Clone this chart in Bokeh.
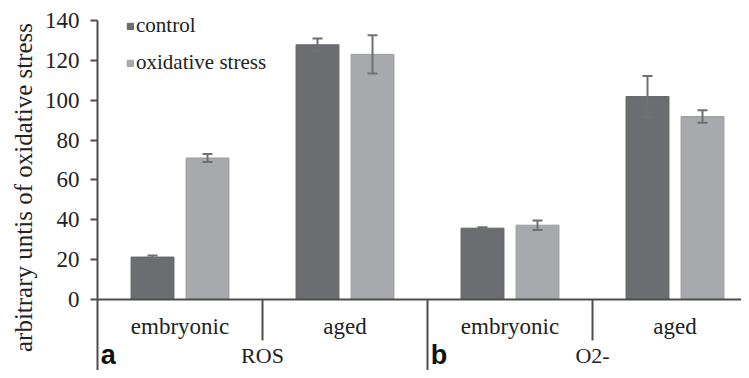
import numpy as np
from bokeh.plotting import figure
from bokeh.models import (ColumnDataSource, Range1d, FixedTicker, Span, Whisker, TeeHead,
                          Legend, LegendItem)
from bokeh.core.properties import value
from bokeh.embed import file_html
from bokeh.resources import INLINE

# ---- data ----
sections = ["ROS", "O2-"]
panel_letters = ["a", "b"]
categories = ["embryonic", "aged", "embryonic", "aged"]
control = [21.3, 127.8, 35.8, 101.8]
control_err = [0.8, 3.2, 0.5, 10.3]
oxidative = [71.0, 123.0, 37.3, 91.8]
oxidative_err = [2.0, 9.6, 2.4, 3.1]
y_ticks = [0, 20, 40, 60, 80, 100, 120, 140]

SERIF = "Times New Roman"
SANS = "Arial"
C_CTRL = "#6c6d70"
C_OXI = "#a8a9ac"
AX = "#4d4d4d"

n = len(categories)
gi = np.arange(n)
x_ctrl = gi + 1/3
x_oxi = gi + 2/3

src_c = ColumnDataSource(dict(x=x_ctrl, top=control,
                              upper=np.array(control) + np.array(control_err),
                              lower=np.array(control) - np.array(control_err)))
src_o = ColumnDataSource(dict(x=x_oxi, top=oxidative,
                              upper=np.array(oxidative) + np.array(oxidative_err),
                              lower=np.array(oxidative) - np.array(oxidative_err)))

Y_BOT = -35.6
Y_TOP = 148.0
p = figure(width=741, height=370, output_backend="svg", toolbar_location=None,
           x_range=Range1d(0, 3.903), y_range=Range1d(Y_BOT, Y_TOP),
           min_border_left=97, min_border_right=0, min_border_top=4, min_border_bottom=0)
p.outline_line_color = None
p.xgrid.visible = False
p.ygrid.visible = False
p.xaxis.visible = False
p.background_fill_color = "white"

# y axis
yax = p.yaxis[0]
yax.ticker = FixedTicker(ticks=y_ticks)
yax.bounds = (Y_BOT, y_ticks[-1])
yax.axis_line_color = AX
yax.axis_line_width = 2
yax.major_tick_line_color = AX
yax.major_tick_line_width = 2
yax.major_tick_out = 7
yax.major_tick_in = 0
yax.minor_tick_line_color = None
yax.major_label_text_font = SERIF
yax.major_label_text_font_size = "23px"
yax.major_label_text_color = "#222222"
yax.major_label_standoff = 11
yax.axis_label = "arbitrary untis of oxidative stress"
yax.axis_label_text_font = SERIF
yax.axis_label_text_font_size = "25px"
yax.axis_label_text_font_style = "normal"
yax.axis_label_text_color = "#222222"
yax.axis_label_standoff = 5

# bars
r_c = p.vbar(x="x", top="top", bottom=0, width=0.26, source=src_c,
             fill_color=C_CTRL, line_color="#646568", line_width=1)
r_o = p.vbar(x="x", top="top", bottom=0, width=0.26, source=src_o,
             fill_color=C_OXI, line_color="#9d9ea1", line_width=1)

for s in (src_c, src_o):
    w = Whisker(source=s, base="x", upper="upper", lower="lower",
                line_color="#707070", line_width=2, level="overlay",
                upper_head=TeeHead(size=10, line_color="#707070", line_width=2),
                lower_head=TeeHead(size=10, line_color="#707070", line_width=2))
    p.add_layout(w)

# x baseline
p.add_layout(Span(location=0, dimension="width", line_color=AX, line_width=2))

# separators between categories
n_sec = len(sections)
per = n // n_sec
sep_minor = [i for i in range(1, n) if i % per != 0]
sep_major = [i for i in range(1, n) if i % per == 0]
p.segment(x0=sep_minor, x1=sep_minor, y0=[0] * len(sep_minor), y1=[-20.5] * len(sep_minor),
          line_color=AX, line_width=2)
p.segment(x0=sep_major, x1=sep_major, y0=[0] * len(sep_major), y1=[Y_BOT] * len(sep_major),
          line_color=AX, line_width=2)

# category labels
p.text(x=gi + 0.5, y=[-13.3] * n, text=categories, text_font=value(SERIF),
       text_font_size="23px", text_align="center", text_baseline="middle", text_color="#222222")
# section labels
sec_x = [k * per + per / 2 for k in range(n_sec)]
p.text(x=sec_x, y=[-28.2] * n_sec, text=sections, text_font=value(SERIF),
       text_font_size="22px", text_align="center", text_baseline="middle", text_color="#222222")
# panel letters
let_x = [k * per + 0.02 for k in range(n_sec)]
p.text(x=let_x, y=[-27.6] * n_sec, text=panel_letters, text_font=value(SANS),
       text_font_style="bold", text_font_size="27px", text_align="left",
       text_baseline="middle", text_color="#111111")

legend = Legend(items=[LegendItem(label="control", renderers=[r_c]),
                       LegendItem(label="oxidative stress", renderers=[r_o])],
                location=(29, 295), orientation="vertical",
                glyph_width=8, glyph_height=8, label_standoff=2, spacing=12,
                padding=0, margin=0, border_line_color=None, background_fill_alpha=0,
                label_text_font=SERIF, label_text_font_size="21px", label_text_color="#222222")
p.add_layout(legend, "center")

open("out.html", "w").write(file_html(p, INLINE))
